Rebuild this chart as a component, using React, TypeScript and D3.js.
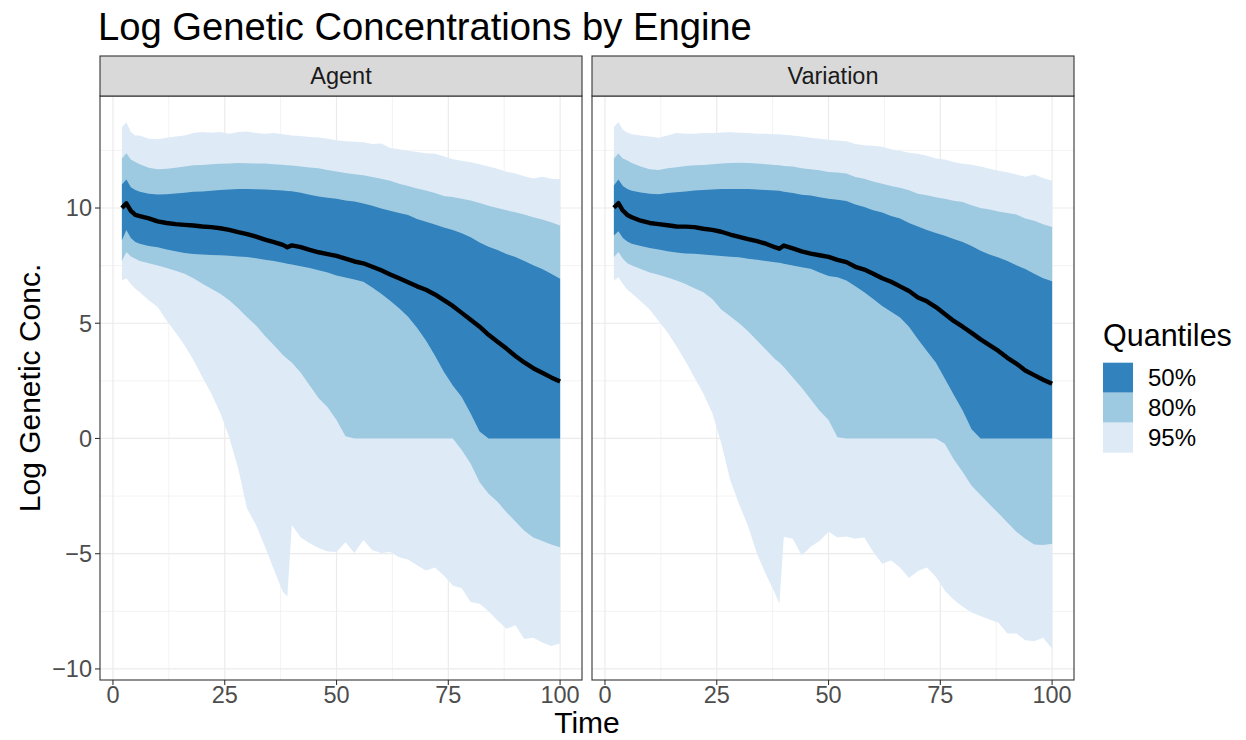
import React from 'react';
import * as d3 from 'd3';

const TIME = [2, 3, 4, 5, 6, 8, 10, 12, 14, 16, 18, 20, 22, 24, 26, 28, 30, 32, 34, 36, 38, 39, 40, 42, 44, 46, 48, 50, 52, 54, 56, 58, 60, 62, 64, 66, 68, 70, 72, 74, 76, 78, 80, 82, 84, 86, 88, 90, 92, 94, 96, 98, 100];

const AGENT_U95 = [13.5, 13.72, 13.3, 13.15, 13.15, 13.0, 12.98, 13.05, 13.1, 13.15, 13.25, 13.3, 13.27, 13.3, 13.22, 13.3, 13.32, 13.25, 13.22, 13.25, 13.2, 13.18, 13.15, 13.12, 13.08, 13.06, 13.0, 12.94, 12.9, 12.88, 12.85, 12.78, 12.8, 12.6, 12.55, 12.48, 12.43, 12.38, 12.35, 12.25, 12.12, 12.05, 11.98, 11.9, 11.8, 11.7, 11.57, 11.5, 11.38, 11.28, 11.36, 11.27, 11.25];
const AGENT_U80 = [12.15, 12.38, 12.1, 12.0, 11.9, 11.75, 11.68, 11.7, 11.75, 11.8, 11.85, 11.87, 11.9, 11.92, 11.93, 11.95, 11.94, 11.93, 11.93, 11.9, 11.88, 11.86, 11.84, 11.8, 11.76, 11.72, 11.65, 11.58, 11.52, 11.47, 11.42, 11.35, 11.27, 11.18, 11.05, 10.95, 10.85, 10.76, 10.65, 10.52, 10.48, 10.4, 10.33, 10.22, 10.1, 10.0, 9.9, 9.82, 9.72, 9.6, 9.5, 9.38, 9.24];
const AGENT_U50 = [11.02, 11.24, 10.9, 10.78, 10.7, 10.62, 10.59, 10.6, 10.63, 10.66, 10.7, 10.72, 10.75, 10.78, 10.8, 10.82, 10.82, 10.81, 10.8, 10.78, 10.76, 10.74, 10.73, 10.66, 10.58, 10.5, 10.45, 10.4, 10.33, 10.28, 10.2, 10.1, 9.98, 9.88, 9.78, 9.7, 9.52, 9.4, 9.28, 9.15, 9.05, 8.9, 8.73, 8.5, 8.32, 8.18, 8.0, 7.87, 7.7, 7.52, 7.35, 7.15, 6.93];
const AGENT_MED = [10.0, 10.2, 9.88, 9.7, 9.65, 9.55, 9.42, 9.35, 9.3, 9.27, 9.24, 9.2, 9.17, 9.12, 9.05, 8.95, 8.87, 8.76, 8.63, 8.52, 8.4, 8.3, 8.38, 8.3, 8.18, 8.08, 8.0, 7.92, 7.8, 7.68, 7.6, 7.45, 7.3, 7.12, 6.95, 6.78, 6.6, 6.45, 6.25, 6.0, 5.75, 5.45, 5.15, 4.85, 4.5, 4.2, 3.9, 3.58, 3.3, 3.05, 2.85, 2.65, 2.47];
const AGENT_L50 = [8.6, 9.05, 8.7, 8.52, 8.45, 8.35, 8.3, 8.2, 8.12, 8.05, 8.0, 7.98, 7.96, 7.95, 7.93, 7.9, 7.87, 7.82, 7.76, 7.7, 7.62, 7.58, 7.55, 7.47, 7.4, 7.3, 7.2, 7.07, 6.98, 6.9, 6.8, 6.55, 6.28, 5.98, 5.65, 5.28, 4.8, 4.25, 3.6, 2.9, 2.3, 1.8, 1.08, 0.3, 0, 0, 0, 0, 0, 0, 0, 0, 0];
const AGENT_L80 = [7.7, 8.08, 7.9, 7.8, 7.7, 7.6, 7.5, 7.4, 7.28, 7.15, 6.95, 6.71, 6.5, 6.28, 6.0, 5.65, 5.26, 4.9, 4.45, 4.05, 3.62, 3.45, 3.3, 2.85, 2.3, 1.75, 1.35, 0.8, 0.1, 0, 0, 0, 0, 0, 0, 0, 0, 0, 0, 0, 0, -0.5, -1.1, -1.9, -2.4, -2.75, -3.2, -3.6, -4.0, -4.3, -4.45, -4.6, -4.72];
const AGENT_L95 = [6.85, 6.95, 6.7, 6.5, 6.35, 6.0, 5.7, 5.12, 4.6, 4.05, 3.4, 2.66, 1.95, 1.1, 0.05, -1.3, -3.05, -3.75, -4.7, -5.7, -6.65, -6.85, -3.75, -4.3, -4.55, -4.75, -4.9, -4.93, -4.5, -4.97, -4.4, -4.85, -4.97, -4.93, -5.15, -5.25, -5.5, -5.73, -5.6, -5.95, -6.38, -6.5, -7.1, -7.17, -7.5, -7.9, -8.26, -8.1, -8.7, -8.65, -8.85, -9.0, -8.9];

const VAR_U95 = [13.52, 13.73, 13.4, 13.28, 13.2, 13.15, 13.1, 13.05, 13.15, 13.25, 13.22, 13.22, 13.25, 13.24, 13.28, 13.3, 13.27, 13.25, 13.22, 13.22, 13.2, 13.2, 13.18, 13.15, 13.1, 13.05, 13.0, 12.96, 12.93, 12.9, 12.78, 12.72, 12.7, 12.66, 12.55, 12.48, 12.4, 12.35, 12.27, 12.15, 12.1, 12.0, 11.92, 11.88, 11.8, 11.7, 11.62, 11.55, 11.45, 11.36, 11.45, 11.3, 11.18];
const VAR_U80 = [12.15, 12.37, 12.15, 12.06, 11.95, 11.8, 11.68, 11.65, 11.72, 11.77, 11.82, 11.85, 11.87, 11.9, 11.93, 11.95, 11.96, 11.95, 11.93, 11.9, 11.87, 11.85, 11.82, 11.8, 11.72, 11.68, 11.64, 11.56, 11.54, 11.5, 11.35, 11.27, 11.15, 11.05, 10.95, 10.88, 10.77, 10.62, 10.55, 10.47, 10.4, 10.32, 10.26, 10.12, 10.0, 9.93, 9.85, 9.78, 9.72, 9.55, 9.45, 9.3, 9.18];
const VAR_U50 = [10.98, 11.24, 10.95, 10.83, 10.75, 10.67, 10.62, 10.6, 10.65, 10.68, 10.72, 10.76, 10.78, 10.8, 10.82, 10.83, 10.83, 10.82, 10.8, 10.78, 10.76, 10.75, 10.7, 10.65, 10.58, 10.54, 10.47, 10.4, 10.36, 10.3, 10.15, 10.04, 9.9, 9.8, 9.65, 9.55, 9.35, 9.2, 9.05, 8.92, 8.8, 8.65, 8.52, 8.35, 8.15, 7.98, 7.85, 7.7, 7.52, 7.35, 7.15, 6.95, 6.82];
const VAR_MED = [10.01, 10.21, 9.89, 9.7, 9.6, 9.45, 9.35, 9.3, 9.25, 9.2, 9.19, 9.17, 9.1, 9.05, 8.97, 8.85, 8.75, 8.65, 8.56, 8.45, 8.3, 8.23, 8.37, 8.25, 8.12, 8.02, 7.95, 7.88, 7.75, 7.65, 7.45, 7.33, 7.15, 6.95, 6.8, 6.6, 6.4, 6.12, 5.95, 5.7, 5.4, 5.1, 4.85, 4.58, 4.3, 4.05, 3.8, 3.5, 3.25, 2.95, 2.75, 2.55, 2.37];
const VAR_L50 = [8.81, 8.99, 8.7, 8.55, 8.45, 8.35, 8.27, 8.2, 8.12, 8.07, 8.03, 8.01, 7.98, 7.95, 7.92, 7.88, 7.86, 7.8, 7.75, 7.7, 7.65, 7.62, 7.58, 7.5, 7.43, 7.36, 7.2, 7.05, 7.0, 6.85, 6.6, 6.35, 6.05, 5.75, 5.5, 5.25, 4.85, 4.3, 3.8, 3.3, 2.6, 1.9, 1.21, 0.4, 0, 0, 0, 0, 0, 0, 0, 0, 0];
const VAR_L80 = [7.87, 8.09, 7.8, 7.6, 7.5, 7.35, 7.2, 7.1, 6.98, 6.85, 6.7, 6.52, 6.35, 6.05, 5.6, 5.3, 5.0, 4.65, 4.25, 3.85, 3.45, 3.3, 3.1, 2.65, 2.2, 1.7, 1.2, 0.8, 0.05, 0, 0, 0, 0, 0, 0, 0, 0, 0, 0, 0, -0.23, -0.9, -1.45, -2.05, -2.45, -2.85, -3.25, -3.65, -4.05, -4.35, -4.6, -4.62, -4.57];
const VAR_L95 = [6.85, 7.0, 6.7, 6.45, 6.3, 5.95, 5.6, 5.1, 4.6, 4.0, 3.35, 2.65, 1.95, 1.1, -0.2, -1.8, -2.85, -3.8, -5.0, -5.9, -6.7, -7.17, -4.28, -4.35, -5.08, -4.7, -4.45, -4.05, -4.3, -4.25, -4.35, -4.3, -4.93, -5.44, -5.3, -5.6, -6.05, -5.75, -5.6, -6.0, -6.6, -7.0, -7.3, -7.55, -7.7, -7.85, -8.0, -8.46, -8.46, -8.75, -8.8, -8.65, -9.12];

const FACETS = ['Agent', 'Variation'];
const X_TICKS = [0, 25, 50, 75, 100];
const Y_TICKS = [-10, -5, 0, 5, 10];
const LEGEND_LABELS = ['50%', '80%', '95%'];
const BAND_COLORS = ['#3182BD', '#9ECAE1', '#DEEBF7'];

const FONT = '"Liberation Sans", Arial, Helvetica, sans-serif';

const panels = [
  { name: FACETS[0], u95: AGENT_U95, u80: AGENT_U80, u50: AGENT_U50, med: AGENT_MED, l50: AGENT_L50, l80: AGENT_L80, l95: AGENT_L95 },
  { name: FACETS[1], u95: VAR_U95, u80: VAR_U80, u50: VAR_U50, med: VAR_MED, l50: VAR_L50, l80: VAR_L80, l95: VAR_L95 },
];

const PANEL_LEFTS = [100, 592];
const PANEL_W = 482;
const PANEL_TOP = 96;
const PANEL_BOTTOM = 680;
const STRIP_TOP = 56;

const yScale = d3.scaleLinear().domain([-10.48, 14.86]).range([PANEL_BOTTOM, PANEL_TOP]);

function fmt(v: number) {
  return v < 0 ? '\u2212' + Math.abs(v) : String(v);
}

function Panel({ p, left }: { p: any; left: number }) {
  const x = d3.scaleLinear().domain([-2.9, 104.9]).range([left, left + PANEL_W]);
  const band = (lo: number[], hi: number[]) =>
    d3.area<number>().x((_, i) => x(TIME[i])).y0((_, i) => yScale(lo[i])).y1((_, i) => yScale(hi[i]))(TIME) || '';
  const line = d3.line<number>().x((_, i) => x(TIME[i])).y((_, i) => yScale(p.med[i]))(TIME) || '';
  const xMinor = [12.5, 37.5, 62.5, 87.5];
  const yMinor = [-7.5, -2.5, 2.5, 7.5, 12.5];
  return (
    <g>
      <rect x={left} y={PANEL_TOP} width={PANEL_W} height={PANEL_BOTTOM - PANEL_TOP} fill="#FFFFFF" />
      {xMinor.map((v) => (
        <line key={'xm' + v} x1={x(v)} x2={x(v)} y1={PANEL_TOP} y2={PANEL_BOTTOM} stroke="#EBEBEB" strokeWidth={0.6} />
      ))}
      {yMinor.map((v) => (
        <line key={'ym' + v} x1={left} x2={left + PANEL_W} y1={yScale(v)} y2={yScale(v)} stroke="#EBEBEB" strokeWidth={0.6} />
      ))}
      {X_TICKS.map((v) => (
        <line key={'xM' + v} x1={x(v)} x2={x(v)} y1={PANEL_TOP} y2={PANEL_BOTTOM} stroke="#EBEBEB" strokeWidth={1.2} />
      ))}
      {Y_TICKS.map((v) => (
        <line key={'yM' + v} x1={left} x2={left + PANEL_W} y1={yScale(v)} y2={yScale(v)} stroke="#EBEBEB" strokeWidth={1.2} />
      ))}
      <path d={band(p.l95, p.u95)} fill={BAND_COLORS[2]} />
      <path d={band(p.l80, p.u80)} fill={BAND_COLORS[1]} />
      <path d={band(p.l50, p.u50)} fill={BAND_COLORS[0]} />
      <path d={line} fill="none" stroke="#000000" strokeWidth={4.4} strokeLinejoin="round" strokeLinecap="butt" />
      <rect x={left} y={PANEL_TOP} width={PANEL_W} height={PANEL_BOTTOM - PANEL_TOP} fill="none" stroke="#333333" strokeWidth={1.1} />
      <rect x={left} y={STRIP_TOP} width={PANEL_W} height={PANEL_TOP - STRIP_TOP} fill="#D9D9D9" stroke="#333333" strokeWidth={1.1} />
      <text x={left + PANEL_W / 2} y={(STRIP_TOP + PANEL_TOP) / 2 + 8.4} textAnchor="middle" fontSize={23.5} fill="#1A1A1A" fontFamily={FONT}>
        {p.name}
      </text>
      {X_TICKS.map((v) => (
        <g key={'xt' + v}>
          <line x1={x(v)} x2={x(v)} y1={PANEL_BOTTOM} y2={PANEL_BOTTOM + 5} stroke="#333333" strokeWidth={1.1} />
          <text x={x(v)} y={PANEL_BOTTOM + 23} textAnchor="middle" fontSize={23.5} fill="#4D4D4D" fontFamily={FONT}>
            {fmt(v)}
          </text>
        </g>
      ))}
    </g>
  );
}

export default function App() {
  return (
    <svg width={1246} height={740} style={{ position: 'absolute', left: 0, top: 0, background: '#FFFFFF' }} fontFamily={FONT}>
      <rect x={0} y={0} width={1246} height={740} fill="#FFFFFF" />
      <text x={98} y={40} fontSize={38.2} fill="#000000">Log Genetic Concentrations by Engine</text>
      {panels.map((p, i) => (
        <Panel key={p.name} p={p} left={PANEL_LEFTS[i]} />
      ))}
      {Y_TICKS.map((v) => (
        <g key={'yt' + v}>
          <line x1={95} x2={100} y1={yScale(v)} y2={yScale(v)} stroke="#333333" strokeWidth={1.1} />
          <text x={92} y={yScale(v) + 8.4} textAnchor="end" fontSize={23.5} fill="#4D4D4D">
            {fmt(v)}
          </text>
        </g>
      ))}
      <text x={587} y={733} textAnchor="middle" fontSize={30} fill="#000000">Time</text>
      <text transform={`translate(40, ${(PANEL_TOP + PANEL_BOTTOM) / 2}) rotate(-90)`} textAnchor="middle" fontSize={30} fill="#000000">
        Log Genetic Conc.
      </text>
      <text x={1103} y={346} fontSize={30.5} fill="#000000">Quantiles</text>
      {LEGEND_LABELS.map((lab, i) => (
        <g key={lab}>
          <rect x={1103} y={362.7 + i * 30} width={30} height={30} fill={BAND_COLORS[i]} />
          <text x={1148} y={362.7 + i * 30 + 23.5} fontSize={24} fill="#000000">{lab}</text>
        </g>
      ))}
    </svg>
  );
}
